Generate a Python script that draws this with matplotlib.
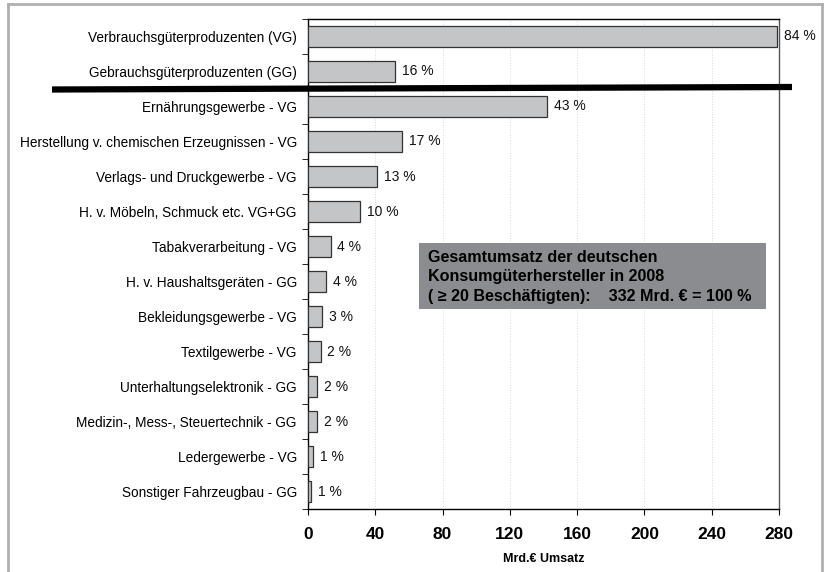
import numpy as np
import matplotlib
matplotlib.use('Agg')
import matplotlib.pyplot as plt
from matplotlib.lines import Line2D
from matplotlib.patches import Rectangle

plt.rcParams['font.family'] = ['Liberation Sans', 'DejaVu Sans']

categories = ['Verbrauchsgüterproduzenten (VG)', 'Gebrauchsgüterproduzenten (GG)',
              'Ernährungsgewerbe - VG', 'Herstellung v. chemischen Erzeugnissen - VG',
              'Verlags- und Druckgewerbe - VG', 'H. v. Möbeln, Schmuck etc. VG+GG',
              'Tabakverarbeitung - VG', 'H. v. Haushaltsgeräten - GG',
              'Bekleidungsgewerbe - VG', 'Textilgewerbe - VG',
              'Unterhaltungselektronik - GG', 'Medizin-, Mess-, Steuertechnik - GG',
              'Ledergewerbe - VG', 'Sonstiger Fahrzeugbau - GG']
umsatz = [279, 52, 142, 56, 41, 31, 13.5, 11, 8.5, 7.5, 5.5, 5.5, 3, 2]
labels = ['84 %', '16 %', '43 %', '17 %', '13 %', '10 %', '4 %', '4 %',
          '3 %', '2 %', '2 %', '2 %', '1 %', '1 %']
xticks = [0, 40, 80, 120, 160, 200, 240, 280]

fig = plt.figure(figsize=(8.27, 5.72), dpi=100)
ax = fig.add_axes([0.3724, 0.1101, 0.5695, 0.8567])

y = np.arange(len(categories))
ax.barh(y, umsatz, height=0.6, color='#c4c5c7', edgecolor='#333333', linewidth=0.9, zorder=3)
for yi, v, lab in zip(y, umsatz, labels):
    ax.text(v + 4, yi, lab, va='center', ha='left', fontsize=10, color='#111111')

ax.set_ylim(len(categories) - 0.5, -0.5)
ax.set_xlim(0, 280)
ax.set_yticks(y)
ax.set_yticklabels(categories, fontsize=9.8)
ax.tick_params(axis='y', length=0, pad=8)
ax.set_yticks(np.arange(-0.5, len(categories), 1), minor=True)
ax.tick_params(axis='y', which='minor', length=4, direction='out')
ax.set_xticks(xticks)
ax.set_xticklabels([str(t) for t in xticks], fontsize=12.5, fontweight='bold')
ax.tick_params(axis='x', length=4, direction='out', pad=9)
ax.set_xlabel('Mrd.€ Umsatz', fontsize=9, fontweight='bold', labelpad=8)
ax.grid(axis='x', color='#d8d8d8', linestyle=':', linewidth=0.7, zorder=0)
for s in ax.spines.values():
    s.set_linewidth(1.0)
ax.spines['right'].set_color('#555555')

# thick separator line
fig.add_artist(Line2D([52 / 827, 792 / 827], [1 - 89.5 / 572, 1 - 87 / 572],
                      color='black', linewidth=4.5, solid_capstyle='butt'))

# info box
box = Rectangle((419 / 827, 1 - 309 / 572), 347 / 827, 66 / 572,
                transform=fig.transFigure, facecolor='#8a8c8f', edgecolor='none', zorder=5)
fig.add_artist(box)
fig.text(428 / 827, 1 - 277 / 572,
         'Gesamtumsatz der deutschen\nKonsumgüterhersteller in 2008\n( ≥ 20 Beschäftigten):    332 Mrd. € = 100 %',
         fontsize=11.6, fontweight='bold', va='center', ha='left', linespacing=1.35, zorder=6)

# outer frame
frame = dict(color='#b0b0b0', linewidth=2)
fig.add_artist(Line2D([8 / 827, 822 / 827], [1 - 4 / 572, 1 - 4 / 572], **frame))
fig.add_artist(Line2D([8 / 827, 8 / 827], [1 - 4 / 572, 0], **frame))
fig.add_artist(Line2D([822 / 827, 822 / 827], [1 - 4 / 572, 0], **frame))

fig.savefig('out.png', dpi=100)
